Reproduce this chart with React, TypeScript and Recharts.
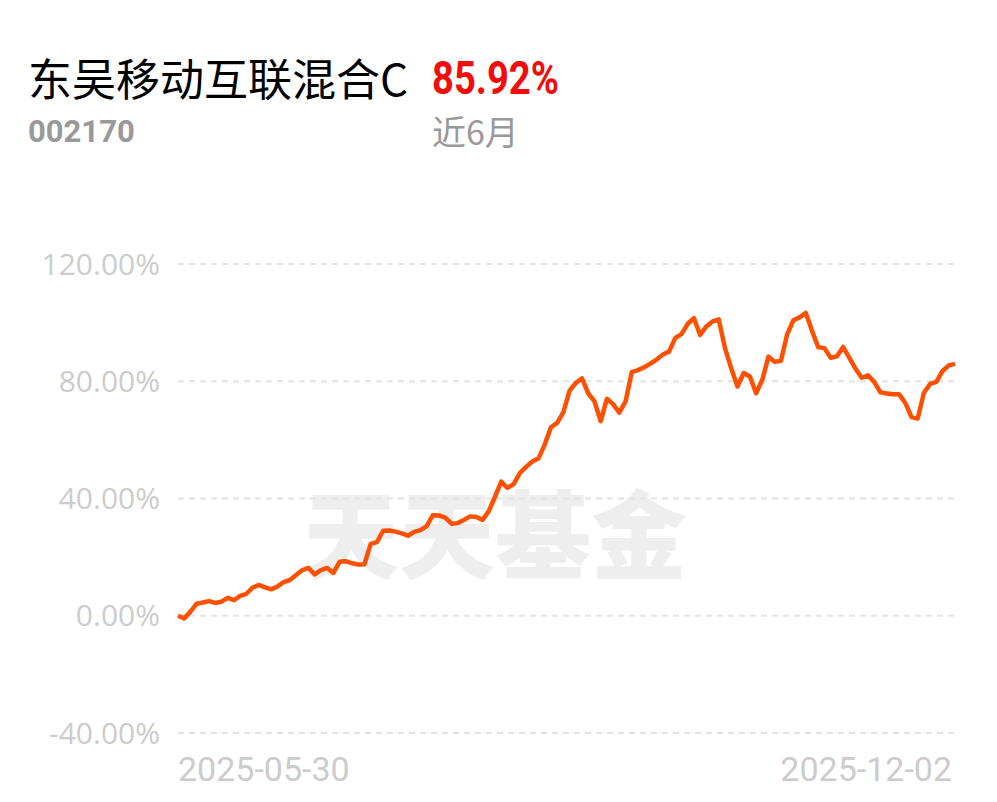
import React from "react";
import { LineChart, Line, XAxis, YAxis, CartesianGrid } from "recharts";

const fundName = "东吴移动互联混合C";
const fundCode = "002170";
const periodReturn = "85.92%";
const periodLabel = "近6月";
const watermark = "天天基金";
const startDate = "2025-05-30";
const endDate = "2025-12-02";

const yTicks = [-40, 0, 40, 80, 120];

const returns: number[] = [
  0.0, -0.9, 1.4, 4.1, 4.5, 5.0, 4.4, 4.8, 6.1, 5.3,
  6.8, 7.5, 9.6, 10.5, 9.7, 9.0, 10.0, 11.5, 12.2, 13.9,
  15.6, 16.3, 14.1, 15.6, 16.3, 14.6, 18.4, 18.6, 17.9, 17.5,
  17.6, 24.5, 25.1, 29.0, 29.1, 28.7, 28.1, 27.3, 28.6, 29.2,
  30.6, 34.3, 34.2, 33.5, 31.4, 31.6, 32.7, 33.9, 33.7, 32.7,
  35.7, 40.6, 45.8, 43.6, 44.9, 48.7, 50.8, 52.6, 53.7, 58.4,
  64.3, 65.8, 69.5, 76.8, 79.4, 81.0, 75.9, 73.1, 66.4, 74.0,
  72.2, 69.3, 73.1, 83.1, 83.8, 84.8, 86.0, 87.4, 89.1, 90.1,
  94.8, 96.1, 99.6, 101.5, 95.8, 98.7, 100.4, 101.1, 91.3, 84.4,
  78.2, 82.8, 81.6, 75.9, 80.5, 88.4, 86.6, 87.0, 96.0, 100.8,
  101.8, 103.3, 97.2, 91.6, 91.3, 88.0, 88.5, 91.7, 88.0, 84.3,
  81.2, 82.0, 79.8, 76.2, 75.8, 75.6, 75.6, 72.6, 67.8, 67.3,
  76.1, 79.1, 79.8, 83.5, 85.4, 85.92,
];

const data = returns.map((v, i) => ({ i, v }));
const lastIndex = returns.length - 1;

const XTick = (props: any) => {
  const { x, y, payload } = props;
  const isFirst = payload.value === 0;
  return (
    <text
      x={isFirst ? x : x - 3}
      y={y + 48}
      textAnchor={isFirst ? "start" : "end"}
      fill="#cccccc"
      fontSize={34}
      fontFamily="Roboto, sans-serif"
    >
      {isFirst ? startDate : endDate}
    </text>
  );
};

export default function App() {
  return (
    <div
      style={{
        position: "absolute",
        left: 0,
        top: 0,
        width: 997,
        height: 802,
        background: "#ffffff",
        overflow: "hidden",
      }}
    >
      <div
        style={{
          position: "absolute",
          left: 28,
          top: 49,
          fontSize: 44,
          lineHeight: "56px",
          color: "#000",
          fontFamily: "'Noto Sans CJK SC', sans-serif",
          whiteSpace: "nowrap",
        }}
      >
        {fundName}
      </div>
      <div
        style={{
          position: "absolute",
          left: 432,
          top: 48,
          fontSize: 46,
          lineHeight: "60px",
          color: "#f20d0d",
          fontWeight: 700,
          fontFamily: "Roboto, sans-serif",
          transform: "scaleX(0.83)",
          transformOrigin: "left center",
          whiteSpace: "nowrap",
        }}
      >
        {periodReturn}
      </div>
      <div
        style={{
          position: "absolute",
          left: 28,
          top: 112,
          fontSize: 31,
          lineHeight: "40px",
          color: "#999999",
          fontWeight: 700,
          fontFamily: "Roboto, sans-serif",
          whiteSpace: "nowrap",
        }}
      >
        {fundCode}
      </div>
      <div
        style={{
          position: "absolute",
          left: 432,
          top: 108,
          fontSize: 34,
          lineHeight: "46px",
          color: "#999999",
          fontFamily: "'Noto Sans CJK SC', sans-serif",
          whiteSpace: "nowrap",
        }}
      >
        {periodLabel}
      </div>
      <div
        style={{
          position: "absolute",
          left: 303,
          top: 470,
          fontSize: 96,
          lineHeight: "120px",
          color: "#eeeeee",
          fontWeight: 900,
          fontFamily: "'Noto Sans CJK SC', sans-serif",
          whiteSpace: "nowrap",
        }}
      >
        {watermark}
      </div>
      <div style={{ position: "absolute", left: 0, top: 0 }}>
        <LineChart
          width={997}
          height={802}
          data={data}
          margin={{ top: 264, right: 42, bottom: 0, left: 0 }}
        >
          <CartesianGrid
            vertical={false}
            stroke="#e3e3e3"
            strokeDasharray="6 5"
            strokeWidth={2}
          />
          <XAxis
            dataKey="i"
            type="number"
            domain={[0, lastIndex]}
            ticks={[0, lastIndex]}
            axisLine={false}
            tickLine={false}
            tickSize={0}
            tickMargin={0}
            height={69}
            tick={<XTick />}
            interval={0}
          />
          <YAxis
            domain={[-40, 120]}
            ticks={yTicks}
            axisLine={false}
            tickLine={false}
            tickSize={0}
            tickMargin={18}
            width={178}
            interval={0}
            tick={{ fill: "#cccccc", fontSize: 30, fontFamily: "'Open Sans', sans-serif" }}
            tickFormatter={(v: number) => `${v.toFixed(2)}%`}
          />
          <Line
            type="linear"
            dataKey="v"
            stroke="#ff4f00"
            strokeWidth={4.5}
            dot={false}
            isAnimationActive={false}
            strokeLinejoin="round"
          />
        </LineChart>
      </div>
    </div>
  );
}
